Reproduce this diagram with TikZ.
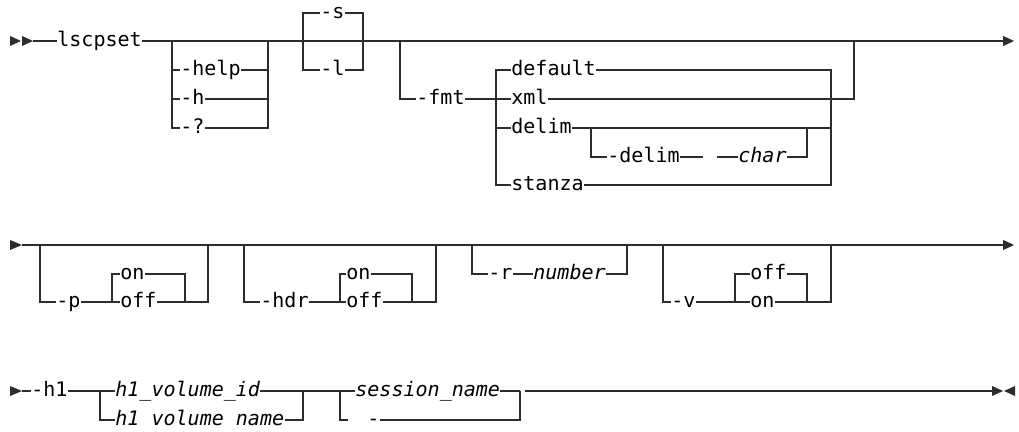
\documentclass[tikz,border=0pt]{standalone}
\usepackage{fontspec}
\usetikzlibrary{arrows.meta}
\newfontfamily\synfont{DejaVu Sans Mono}
\definecolor{railgray}{RGB}{45,45,45}

\begin{document}
\begin{tikzpicture}[x=0.02cm,y=-0.02cm]
\tikzset{
  KW/.style={anchor=west,inner sep=0pt,text height=0.29cm,text depth=0.08cm,font=\synfont\fontsize{11.4}{13}\selectfont,text=black},
  VR/.style={KW,font=\synfont\fontsize{11.4}{13}\selectfont\itshape},
  RL/.style={draw=railgray,line width=0.65pt},
  EN/.style={RL,-{Triangle[length=0.22cm,width=0.2cm]}},
  TR/.style={fill=railgray},
}
\useasboundingbox (0,0) rectangle (1019,432);

% row 1
\fill[TR] (10,36) -- (21,41) -- (10,46) -- cycle;
\fill[TR] (22,36) -- (33,41) -- (22,46) -- cycle;
\coordinate (r1s) at (33,41);
\coordinate (r1e) at (1014,41);
\node[KW](lscp) at (57,41){lscpset};
\draw[RL] (r1s) -- (lscp.west);
\draw[EN] (lscp.east) -- (r1e);

\coordinate (g1l) at (172,41);
\coordinate (g1r) at (268,41);
\node[KW](hlp) at (180,70){-help};
\node[KW](hh)  at (180,99){-h};
\node[KW](hq)  at (180,128){-?};
\draw[RL] (g1l) |- (hlp.west) (hlp.east) -| (g1r);
\draw[RL] (g1l) |- (hh.west) (hh.east) -| (g1r);
\draw[RL] (g1l) |- (hq.west) (hq.east) -| (g1r);

\coordinate (g2l) at (303,41);
\coordinate (g2r) at (363,41);
\node[KW](ss) at (320,13){-s};
\node[KW](ll) at (320,70){-l};
\draw[RL] (g2l) |- (ss.west) (ss.east) -| (g2r);
\draw[RL] (g2l) |- (ll.west) (ll.east) -| (g2r);

\coordinate (g3l) at (400,41);
\coordinate (g3r) at (854,41);
\coordinate (fj)  at (496,99);
\coordinate (fjr) at (831,99);
\node[KW](fmt)  at (416,99){-fmt};
\node[KW](dflt) at (511,70){default};
\node[KW](xml)  at (511,99){xml};
\node[KW](dlm)  at (511,128){delim};
\node[KW](stz)  at (511,185){stanza};
\draw[RL] (g3l) |- (fmt.west);
\draw[RL] (fmt.east) -- (xml.west);
\draw[RL] (xml.east) -| (g3r);
\draw[RL] (fj) |- (dflt.west) (dflt.east) -| (fjr);
\draw[RL] (fj) |- (dlm.west) (dlm.east) -| (fjr);
\draw[RL] (fj) |- (stz.west) (stz.east) -| (fjr);

\coordinate (dl)  at (591,128);
\coordinate (dr)  at (807,128);
\coordinate (dg1) at (703,157);
\coordinate (dg2) at (717,157);
\node[KW](dopt) at (607,157){-delim};
\node[VR](chr)  at (738,157){char};
\draw[RL] (dl) |- (dopt.west) (dopt.east) -- (dg1);
\draw[RL] (dg2) -- (chr.west) (chr.east) -| (dr);

% row 2
\fill[TR] (10,240) -- (22,245) -- (10,250) -- cycle;
\coordinate (r2s) at (22,245);
\coordinate (r2e) at (1014,245);
\draw[EN] (r2s) -- (r2e);

\coordinate (g4l) at (40,245);
\coordinate (g4r) at (208,245);
\coordinate (pj)  at (112,302);
\coordinate (pjr) at (185,302);
\node[KW](pp)   at (56,302){-p};
\node[KW](pon)  at (120,274){on};
\node[KW](poff) at (120,302){off};
\draw[RL] (g4l) |- (pp.west) (pp.east) -- (poff.west) (poff.east) -| (g4r);
\draw[RL] (pj) |- (pon.west) (pon.east) -| (pjr);

\coordinate (g5l) at (244,245);
\coordinate (g5r) at (436,245);
\coordinate (hj)  at (340,302);
\coordinate (hjr) at (412,302);
\node[KW](hdr)  at (260,302){-hdr};
\node[KW](hon)  at (346,274){on};
\node[KW](hoff) at (346,302){off};
\draw[RL] (g5l) |- (hdr.west) (hdr.east) -- (hoff.west) (hoff.east) -| (g5r);
\draw[RL] (hj) |- (hon.west) (hon.east) -| (hjr);

\coordinate (g6l) at (472,245);
\coordinate (g6r) at (627,245);
\node[KW](rr)  at (488,274){-r};
\node[VR](num) at (533,274){number};
\draw[RL] (g6l) |- (rr.west) (rr.east) -- (num.west) (num.east) -| (g6r);

\coordinate (g7l) at (663,245);
\coordinate (g7r) at (831,245);
\coordinate (vj)  at (735,302);
\coordinate (vjr) at (807,302);
\node[KW](vv)   at (671,302){-v};
\node[KW](voff) at (750,274){off};
\node[KW](von)  at (750,302){on};
\draw[RL] (g7l) |- (vv.west) (vv.east) -- (von.west) (von.east) -| (g7r);
\draw[RL] (vj) |- (voff.west) (voff.east) -| (vjr);

% row 3
\fill[TR] (10,386) -- (22,391) -- (10,396) -- cycle;
\coordinate (r3s) at (22,391);
\node[KW](hone) at (31,391){-h1};
\draw[RL] (r3s) -- (hone.west);

\coordinate (g8l) at (100,391);
\coordinate (g8r) at (303,391);
\node[VR](vid)   at (115,391){h1\_volume\_id};
\node[VR](vname) at (115,420){h1 volume name};
\draw[RL] (hone.east) -- (vid.west) (vid.east) -- (g8r);
\draw[RL] (g8l) |- (vname.west) (vname.east) -| (g8r);

\coordinate (g9l) at (340,391);
\coordinate (g9r) at (520,391);
\coordinate (sl)  at (348,420);
\node[VR](sess) at (355,391){session\_name};
\node[KW](dash) at (367,420){-};
\draw[RL] (g8r) -- (sess.west) (sess.east) -- (g9r);
\draw[RL] (g9l) |- (sl);
\draw[RL] (dash.east) -| (g9r);

\coordinate (r3a) at (525,391);
\coordinate (r3e) at (992,391);
\draw[RL] (r3a) -- (r3e);
\draw[RL,line width=1pt] (r3a) -- ++(24,0);
\fill[TR] (992,386) -- (1003,391) -- (992,396) -- cycle;
\fill[TR] (1015,386) -- (1004,391) -- (1015,396) -- cycle;
\end{tikzpicture}
\end{document}
